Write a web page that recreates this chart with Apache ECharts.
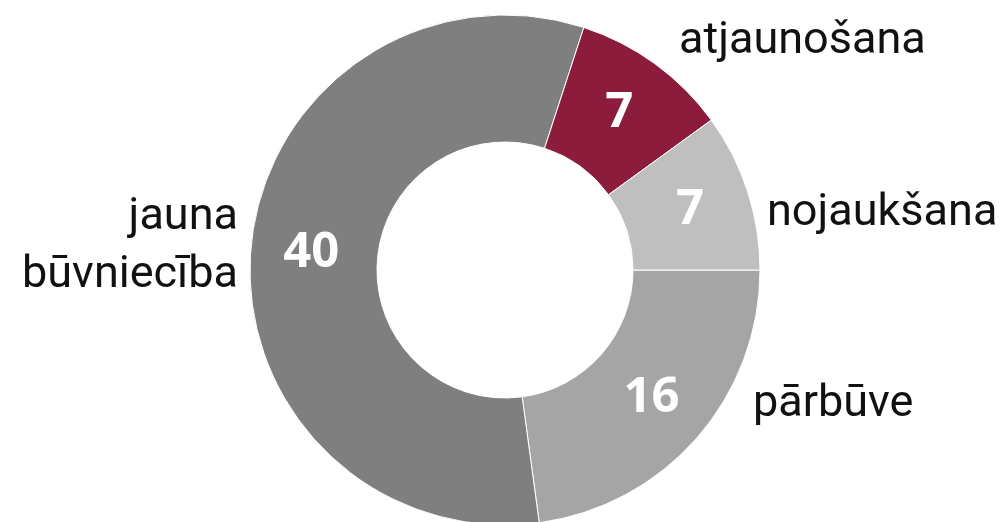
<!doctype html>
<html>
    <head>
        <meta charset="utf-8">
        <style>
            html, body { margin: 0; padding: 0; background: #fff; }
            #main { width: 1003px; height: 522px; }
        </style>
    </head>
    <body>
        <div id="main"></div>
        <script src="https://cdn.jsdelivr.net/npm/echarts@6/dist/echarts.min.js"></script>
        <script>
            var chart = echarts.init(document.getElementById('main'));

            // clockwise from 3 o'clock
            var names = ['pārbūve', 'jauna\nbūvniecība', 'atjaunošana', 'nojaukšana'];
            var values = [16, 40, 7, 7];
            var colors = ['#a5a5a5', '#7f7f7f', '#8c1c3b', '#bfbfbf'];

            // where the outer names sit
            var namePos = [
                { x: 753, y: 405, align: 'left' },
                { x: 238, y: 247, align: 'right' },
                { x: 679, y: 42, align: 'left' },
                { x: 767, y: 214, align: 'left' }
            ];

            var data = names.map(function (n, i) {
                return { name: n, value: values[i], itemStyle: { color: colors[i] } };
            });

            chart.setOption({
                animation: false,
                series: [{
                    type: 'pie',
                    center: [505, 270],
                    radius: [128, 255],
                    startAngle: 0,
                    clockwise: true,
                    silent: true,
                    itemStyle: {
                        borderColor: '#fff',
                        borderWidth: 1
                    },
                    label: {
                        position: 'inside',
                        formatter: '{c}',
                        color: '#fff',
                        fontFamily: 'Open Sans',
                        fontWeight: 'bold',
                        fontSize: 49
                    },
                    labelLine: { show: false },
                    data: data
                }, {
                    type: 'pie',
                    center: [505, 270],
                    radius: [128, 255],
                    startAngle: 0,
                    clockwise: true,
                    silent: true,
                    itemStyle: { color: 'rgba(0,0,0,0)' },
                    label: {
                        position: 'outside',
                        formatter: '{b}',
                        color: '#111',
                        fontFamily: 'Roboto',
                        fontSize: 45,
                        lineHeight: 58,
                        overflow: 'none',
                        width: 400
                    },
                    labelLine: { show: false },
                    labelLayout: function (params) {
                        var p = namePos[params.dataIndex];
                        return {
                            x: p.x,
                            y: p.y,
                            align: p.align,
                            verticalAlign: 'middle'
                        };
                    },
                    data: names.map(function (n, i) {
                        return { name: n, value: values[i] };
                    })
                }]
            });

            window.addEventListener('resize', function () {
                chart.resize();
            });
        </script>
    </body>
</html>
